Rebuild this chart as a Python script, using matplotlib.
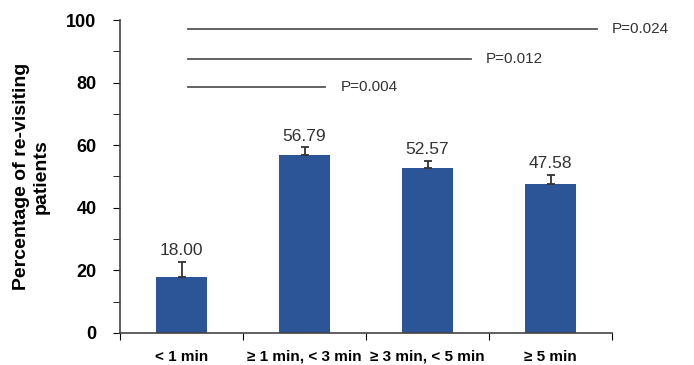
import matplotlib.pyplot as plt
import numpy as np

plt.rcParams['font.family'] = ['Liberation Sans', 'DejaVu Sans']

groups = ['< 1 min', '≥ 1 min, < 3 min', '≥ 3 min, < 5 min', '≥ 5 min']
values = [18.00, 56.79, 52.57, 47.58]
errors = [4.7, 2.5, 2.3, 2.9]
# significance lines: right end (in category units), y level, label
sig_ends = [1.17, 2.35, 3.38]
sig_levels = [78.5, 87.5, 97]
sig_labels = ['P=0.004', 'P=0.012', 'P=0.024']

fig = plt.figure(figsize=(6.94, 3.65), dpi=100)
ax = fig.add_axes([0.173, 0.088, 0.709, 0.857])

x = np.arange(len(groups))
ax.bar(x, values, width=0.41, color='#2B5597', zorder=2)
ax.errorbar(x, values, yerr=[np.zeros(len(values)), errors], fmt='none',
            ecolor='#333333', elinewidth=1.3, capsize=3, capthick=1.3, zorder=3)
for xi, v, e in zip(x, values, errors):
    ax.text(xi, v + e + 1.2, f'{v:.2f}', ha='center', va='bottom', fontsize=12.5, color='#333333')

for end, lvl, lab in zip(sig_ends, sig_levels, sig_labels):
    ax.plot([0.05, end], [lvl, lvl], color='#555555', lw=1.3, clip_on=False)
    ax.text(end + 0.12, lvl, lab, ha='left', va='center', fontsize=11, color='#333333')

ax.set_xlim(-0.5, 3.5)
ax.set_ylim(0, 100)
ax.set_yticks(np.arange(0, 101, 20))
ax.set_yticks(np.arange(0, 101, 10), minor=True)
ax.set_xticks(np.arange(-0.5, 3.6, 1))
ax.set_xticklabels([])
ax.set_xticks(x, minor=True)
ax.set_xticklabels(groups, minor=True, fontweight='bold', fontsize=11)
ax.tick_params(axis='x', which='minor', length=0, pad=12)
ax.tick_params(axis='x', which='major', length=5, direction='out')
ax.tick_params(axis='y', which='both', length=5, direction='out', pad=12)
for lab in ax.get_yticklabels():
    lab.set_fontweight('bold')
    lab.set_fontsize(13)

for s in ['top', 'right']:
    ax.spines[s].set_visible(False)
for s in ['left', 'bottom']:
    ax.spines[s].set_color('#444444')
    ax.spines[s].set_linewidth(1.2)

ax.set_ylabel('Percentage of re-visiting\npatients', fontweight='bold', fontsize=14, labelpad=12)

fig.savefig('out.png', dpi=100)
